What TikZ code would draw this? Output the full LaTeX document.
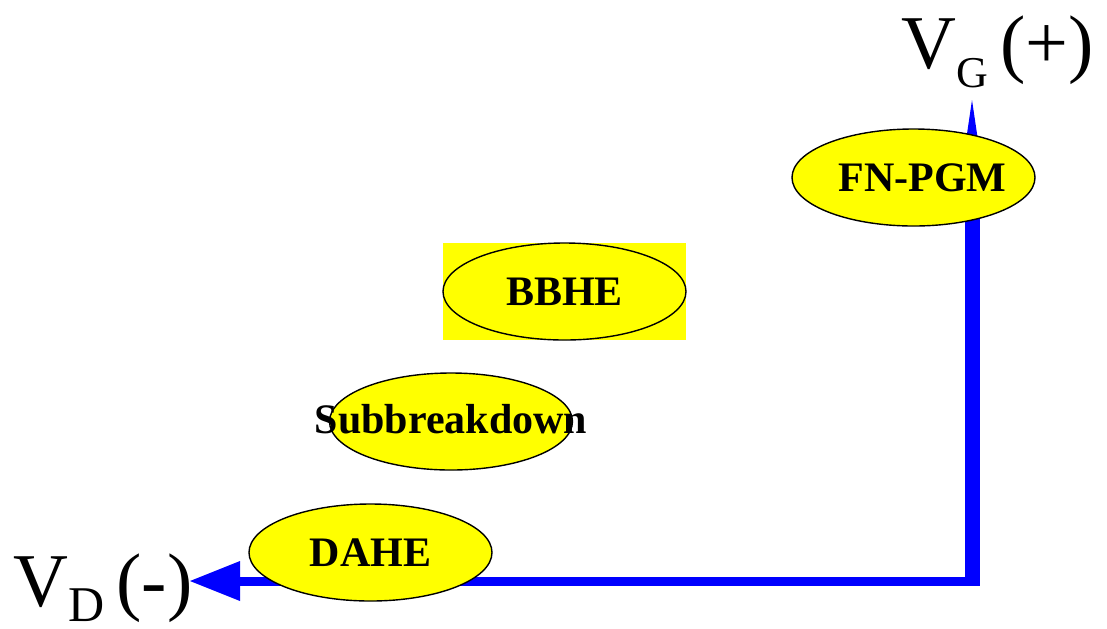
\documentclass[tikz,border=0pt]{standalone}
\usepackage{fontspec}
\setmainfont{Liberation Serif}
\usepackage{xcolor}
\usetikzlibrary{shapes.geometric, arrows.meta, positioning}
\definecolor{axisblue}{RGB}{0,0,255}
\definecolor{regionyellow}{RGB}{255,255,0}

\begin{document}
\begin{tikzpicture}[
    x=0.5pt, y=-0.5pt,
    region/.style={ellipse, draw, fill=regionyellow, line width=0.7pt, minimum width=121.5pt, minimum height=48.5pt, inner sep=0pt, align=center, font=\fontsize{21}{21}\selectfont\bfseries},
    axislabel/.style={inner sep=0pt, anchor=base west, font=\fontsize{38}{38}\selectfont},
    axis/.style={draw=axisblue, fill=axisblue}
]
\useasboundingbox (0,0) rectangle (1107,628);

\coordinate (origin) at (972,581);
\coordinate (dtip) at (190,581);
\coordinate (gtip) at (972,100);

\node[axislabel] (vd) at (13,606) {V\raisebox{-7.5pt}{\fontsize{25}{25}\selectfont D}\hspace{6pt}(-)};
\node[axislabel] (vg) at (901,68) {V\raisebox{-9.75pt}{\fontsize{22}{22}\selectfont G}\hspace{6pt}(+)};

\draw[axis, line width=4.5pt, -{Triangle[length=25pt, width=20pt, line width=0pt]}] ([xshift=3.75pt]origin) -- (dtip);
\draw[axis, line width=7.5pt, -{Triangle[length=27pt, width=8pt, line width=0pt]}] (origin) -- (gtip);

\fill[regionyellow] (443,243) rectangle (686,340);

\node[region] (fnpgm) at (913.5,177.5) {\makebox[0pt]{\hspace{9pt}FN-PGM}};
\node[region] (bbhe) at (564.5,291.5) {BBHE};
\node[region] (subbd) at (451,421.5) {\makebox[0pt]{\raisebox{3pt}{Subbreakdown}}};
\node[region] (dahe) at (370.5,552.5) {DAHE};

\end{tikzpicture}
\end{document}
